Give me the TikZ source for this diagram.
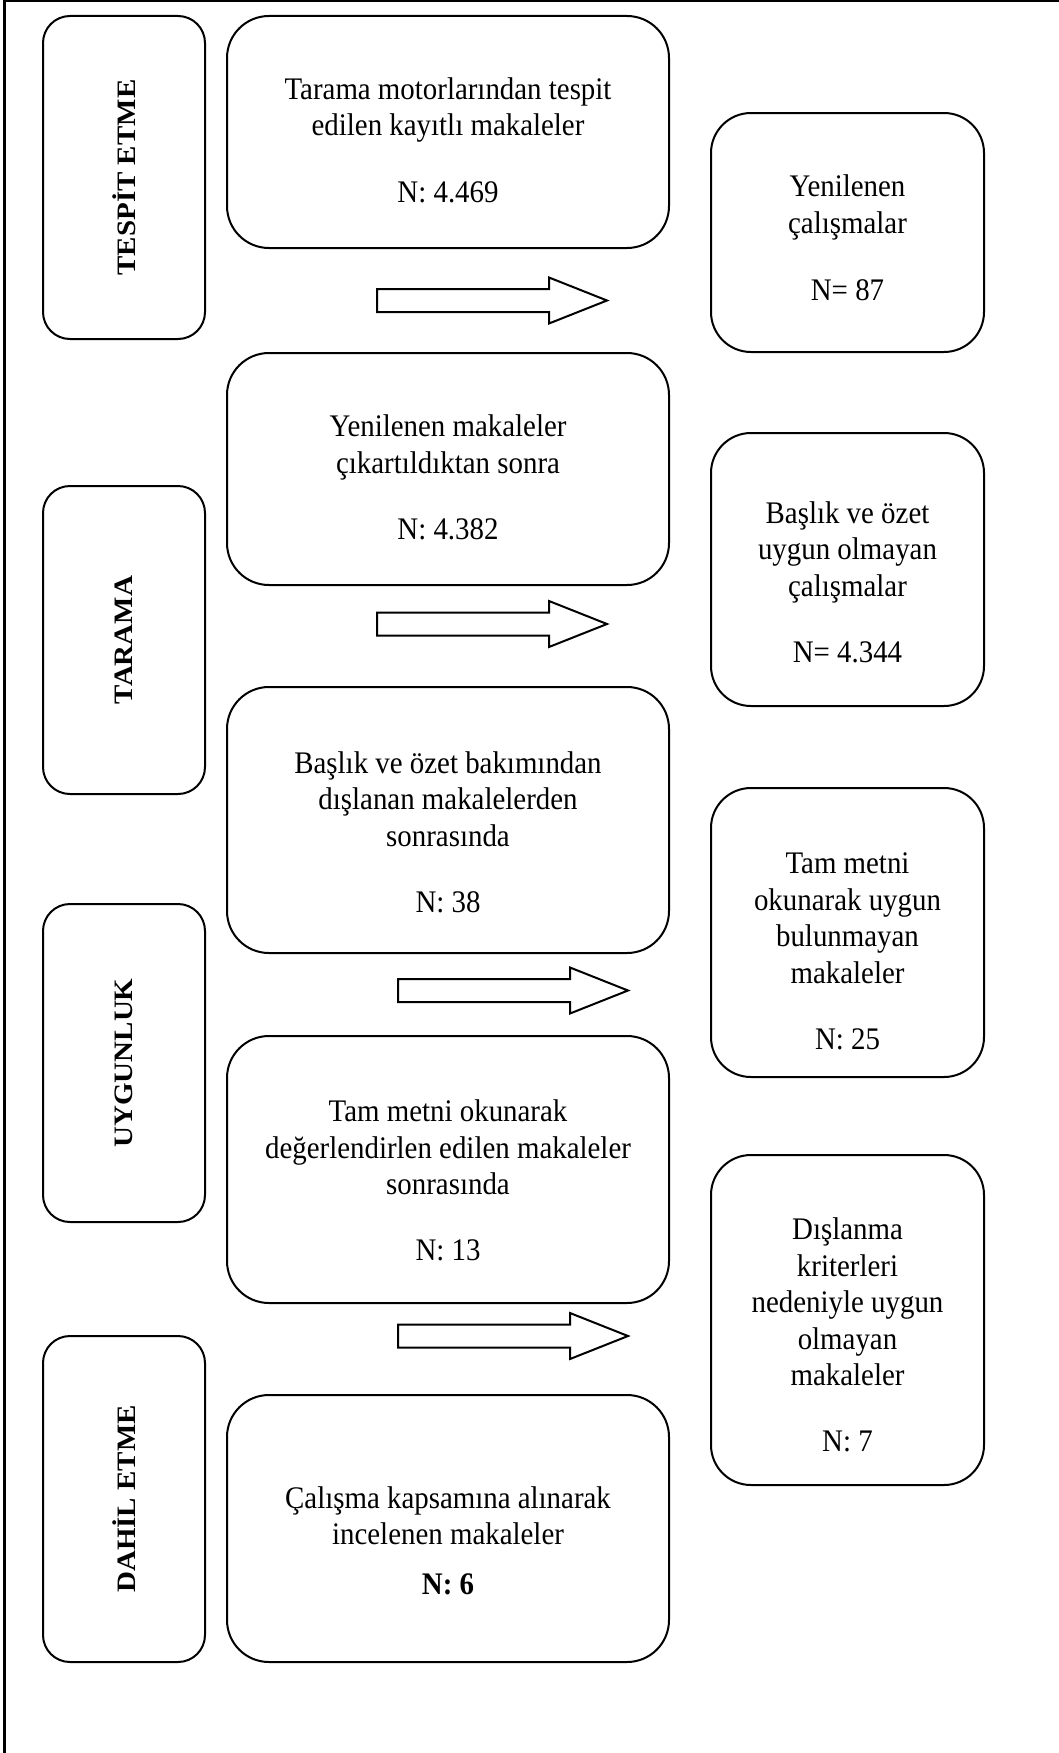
\documentclass[tikz,border=0pt]{standalone}
\usepackage{fontspec}
\setmainfont{Liberation Serif}
\newfontfamily\bodyfont[FakeStretch=0.92]{Liberation Serif}
\newfontfamily\labfont[FakeStretch=1.09]{Liberation Serif}
\begin{document}
\begin{tikzpicture}[x=1pt,y=-1pt,
  box/.style={draw=black, line width=2pt, fill=white, inner sep=0pt},
  lbox/.style={box, rounded corners=27pt, minimum width=162pt},
  mbox/.style={box, rounded corners=42pt, minimum width=442pt},
  rbox/.style={box, rounded corners=40pt, minimum width=273pt},
  txt/.style={align=center, inner sep=0pt, font=\bodyfont\fontsize{31.4}{36.6}\selectfont},
  vlab/.style={rotate=90, inner sep=0pt, font=\labfont\fontsize{26.6}{30}\selectfont\bfseries},
  blockarrow/.style={draw=black, line width=2pt, fill=white, line join=miter}
]
\useasboundingbox (0,0) rectangle (1059,1753);
% frame
\draw[line width=3pt] (4,1753) -- (4,1) -- (1059,1);

% left column
\node[lbox, minimum height=323pt] (l1) at (124,177.5) {};
\node[lbox, minimum height=308pt] (l2) at (124,640) {};
\node[lbox, minimum height=318pt] (l3) at (124,1063) {};
\node[lbox, minimum height=326pt] (l4) at (124,1499) {};
\node[vlab] (l1t) at (l1.center) {TESPİT ETME};
\node[vlab] (l2t) at (l2.center) {TARAMA};
\node[vlab] (l3t) at (l3.center) {UYGUNLUK};
\node[vlab] (l4t) at (l4.center) {DAHİL ETME};

% middle column
\node[mbox, minimum height=232pt] (b1) at (448,132) {};
\node[mbox, minimum height=232pt] (b2) at (448,469) {};
\node[mbox, minimum height=266pt] (b3) at (448,820) {};
\node[mbox, minimum height=267pt] (b4) at (448,1169.5) {};
\node[mbox, minimum height=267pt] (b5) at (448,1528.5) {};

\node[txt] (b1t) at (448,140) {Tarama motorlarından tespit\\edilen kayıtlı makaleler\\[29.5pt]N: 4.469};
\node[txt] (b2t) at (448,477.5) {Yenilenen makaleler\\çıkartıldıktan sonra\\[29.5pt]N: 4.382};
\node[txt] (b3t) at (448,832) {Başlık ve özet bakımından\\dışlanan makalelerden\\sonrasında\\[29.5pt]N: 38};
\node[txt] (b4t) at (448,1180.5) {Tam metni okunarak\\değerlendirlen edilen makaleler\\sonrasında\\[29.5pt]N: 13};
\node[txt] (b5t) at (448,1540.5) {Çalışma kapsamına alınarak\\incelenen makaleler\\[12.5pt]\textbf{N: 6}};

% right column
\node[rbox, minimum height=239pt] (r1) at (847.5,232.5) {};
\node[rbox, minimum height=273pt] (r2) at (847.5,569.5) {};
\node[rbox, minimum height=289pt] (r3) at (847.5,932.5) {};
\node[rbox, minimum height=330pt] (r4) at (847.5,1320) {};

\node[txt] (r1t) at (847.5,238) {Yenilenen\\çalışmalar\\[31pt]N= 87};
\node[txt] (r2t) at (847.5,582) {Başlık ve özet\\uygun olmayan\\çalışmalar\\[29.5pt]N= 4.344};
\node[txt] (r3t) at (847.5,951.5) {Tam metni\\okunarak uygun\\bulunmayan\\makaleler\\[29.5pt]N: 25};
\node[txt] (r4t) at (847.5,1335) {Dışlanma\\kriterleri\\nedeniyle uygun\\olmayan\\makaleler\\[29.5pt]N: 7};

% block arrows
\coordinate (a1) at (377,300.5);
\coordinate (a2) at (377,624);
\coordinate (a3) at (398,990.5);
\coordinate (a4) at (398,1336);
\foreach \a in {a1,a2,a3,a4}{
  \draw[blockarrow, shift={(\a)}] (0,-11.5) -- (172,-11.5) -- (172,-23) -- (230,0) -- (172,23) -- (172,11.5) -- (0,11.5) -- cycle;
}
\end{tikzpicture}
\end{document}
